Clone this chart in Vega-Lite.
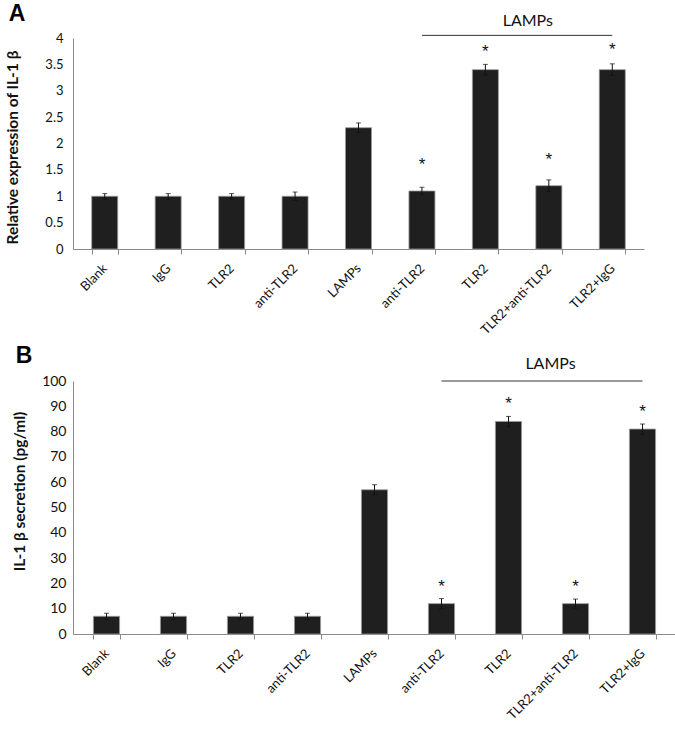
{
  "$schema": "https://vega.github.io/schema/vega-lite/v6.json",
  "padding": {"left": 5, "top": 2, "right": 0, "bottom": 0},
  "background": "white",
  "config": {
    "view": {"stroke": null},
    "font": "Lato",
    "axis": {"domainColor": "#8a8a8a", "tickColor": "#8a8a8a", "labelColor": "#111", "titleColor": "#111", "grid": false}
  },
  "datasets": {
    "a": [
      {"key": "1|Blank", "v": 1.0, "e": 0.05, "sy": null},
      {"key": "2|IgG", "v": 1.0, "e": 0.05, "sy": null},
      {"key": "3|TLR2", "v": 1.0, "e": 0.05, "sy": null},
      {"key": "4|anti-TLR2", "v": 1.0, "e": 0.08, "sy": null},
      {"key": "5|LAMPs", "v": 2.3, "e": 0.09, "sy": null},
      {"key": "6|anti-TLR2", "v": 1.1, "e": 0.07, "sy": 1.65},
      {"key": "7|TLR2", "v": 3.4, "e": 0.1, "sy": 3.8},
      {"key": "8|TLR2+anti-TLR2", "v": 1.2, "e": 0.11, "sy": 1.74},
      {"key": "9|TLR2+IgG", "v": 3.4, "e": 0.11, "sy": 3.82}
    ],
    "b": [
      {"key": "1|Blank", "v": 7, "e": 1.2, "sy": null},
      {"key": "2|IgG", "v": 7, "e": 1.2, "sy": null},
      {"key": "3|TLR2", "v": 7, "e": 1.2, "sy": null},
      {"key": "4|anti-TLR2", "v": 7, "e": 1.2, "sy": null},
      {"key": "5|LAMPs", "v": 57, "e": 2, "sy": null},
      {"key": "6|anti-TLR2", "v": 12, "e": 2, "sy": 19.8},
      {"key": "7|TLR2", "v": 84, "e": 2, "sy": 92},
      {"key": "8|TLR2+anti-TLR2", "v": 12, "e": 1.8, "sy": 19.8},
      {"key": "9|TLR2+IgG", "v": 81, "e": 2, "sy": 89}
    ],
    "la": [{"from": "6|anti-TLR2", "to": "9|TLR2+IgG", "mid": "8|TLR2+anti-TLR2", "y": 4.05, "ty": 4.33, "label": "LAMPs"}],
    "lb": [{"from": "6|anti-TLR2", "to": "9|TLR2+IgG", "mid": "8|TLR2+anti-TLR2", "y": 100, "ty": 106.7, "label": "LAMPs"}]
  },
  "spacing": 8,
  "vconcat": [
    {
      "title": {"text": "A", "anchor": "start", "frame": "bounds", "font": "Liberation Sans", "fontSize": 23, "fontWeight": "bold", "color": "#000", "offset": -13, "dx": 3},
      "width": 571,
      "height": 211,
      "encoding": {
        "x": {"field": "key", "type": "nominal", "sort": null,
          "scale": {"domain": ["1|Blank","2|IgG","3|TLR2","4|anti-TLR2","5|LAMPs","6|anti-TLR2","7|TLR2","8|TLR2+anti-TLR2","9|TLR2+IgG"], "paddingInner": 0.59, "paddingOuter": 0.295},
          "axis": {"title": null, "labelExpr": "split(datum.value,'|')[1]", "labelAngle": -45, "labelAlign": "right", "labelBaseline": "middle", "labelFontSize": 13, "labelPadding": 12, "tickBand": "extent", "tickSize": 5}}
      },
      "layer": [
        {
          "data": {"name": "a"},
          "mark": {"type": "bar", "color": "#1f1f1f", "stroke": "#9a9a9a", "strokeWidth": 0.8},
          "encoding": {
            "y": {"field": "v", "type": "quantitative", "title": "Relative expression of IL-1 β", "scale": {"domain": [0, 4], "nice": false},
              "axis": {"title": "Relative expression of IL-1 β", "titleFontSize": 15.5, "titleFontWeight": "bold", "titlePadding": 24, "titleY": 109, "values": [0, 0.5, 1, 1.5, 2, 2.5, 3, 3.5, 4], "format": "~g", "labelFontSize": 13, "ticks": false, "labelPadding": 10}}
          }
        },
        {
          "data": {"name": "a"},
          "mark": {"type": "errorbar", "ticks": {"size": 5, "color": "#111"}, "color": "#111", "thickness": 1},
          "encoding": {
            "y": {"field": "v", "type": "quantitative", "title": "Relative expression of IL-1 β",
              "axis": {"title": "Relative expression of IL-1 β", "titleFontSize": 15.5, "titleFontWeight": "bold", "titlePadding": 24, "titleY": 109, "values": [0, 0.5, 1, 1.5, 2, 2.5, 3, 3.5, 4], "format": "~g", "labelFontSize": 13, "ticks": false, "labelPadding": 10}},
            "yError": {"field": "e"}
          }
        },
        {
          "data": {"name": "a"},
          "transform": [{"filter": "datum.sy != null"}],
          "mark": {"type": "text", "text": "*", "fontSize": 17, "font": "Liberation Sans", "baseline": "middle", "dy": 3, "color": "#111"},
          "encoding": {
            "y": {"field": "sy", "type": "quantitative", "title": "Relative expression of IL-1 β",
              "axis": {"title": "Relative expression of IL-1 β", "titleFontSize": 15.5, "titleFontWeight": "bold", "titlePadding": 24, "titleY": 109, "values": [0, 0.5, 1, 1.5, 2, 2.5, 3, 3.5, 4], "format": "~g", "labelFontSize": 13, "ticks": false, "labelPadding": 10}}
          }
        },
        {
          "data": {"name": "la"},
          "mark": {"type": "rule", "color": "#333", "strokeWidth": 1},
          "encoding": {
            "x": {"field": "from", "type": "nominal"},
            "x2": {"field": "to"},
            "y": {"field": "y", "type": "quantitative", "title": "Relative expression of IL-1 β",
              "axis": {"title": "Relative expression of IL-1 β", "titleFontSize": 15.5, "titleFontWeight": "bold", "titlePadding": 24, "titleY": 109, "values": [0, 0.5, 1, 1.5, 2, 2.5, 3, 3.5, 4], "format": "~g", "labelFontSize": 13, "ticks": false, "labelPadding": 10}}
          }
        },
        {
          "data": {"name": "la"},
          "mark": {"type": "text", "fontSize": 16, "baseline": "middle", "dx": -21, "color": "#111"},
          "encoding": {
            "x": {"field": "mid", "type": "nominal"},
            "y": {"field": "ty", "type": "quantitative", "title": "Relative expression of IL-1 β",
              "axis": {"title": "Relative expression of IL-1 β", "titleFontSize": 15.5, "titleFontWeight": "bold", "titlePadding": 24, "titleY": 109, "values": [0, 0.5, 1, 1.5, 2, 2.5, 3, 3.5, 4], "format": "~g", "labelFontSize": 13, "ticks": false, "labelPadding": 10}},
            "text": {"field": "label"}
          }
        }
      ]
    },
    {
      "title": {"text": "B", "anchor": "start", "frame": "bounds", "font": "Liberation Sans", "fontSize": 23, "fontWeight": "bold", "color": "#000", "offset": -12, "dx": 3},
      "width": 603,
      "height": 253,
      "encoding": {
        "x": {"field": "key", "type": "nominal", "sort": null,
          "scale": {"domain": ["1|Blank","2|IgG","3|TLR2","4|anti-TLR2","5|LAMPs","6|anti-TLR2","7|TLR2","8|TLR2+anti-TLR2","9|TLR2+IgG"], "paddingInner": 0.61, "paddingOuter": 0.305},
          "axis": {"title": null, "labelExpr": "split(datum.value,'|')[1]", "labelAngle": -45, "labelAlign": "right", "labelBaseline": "middle", "labelFontSize": 13, "labelPadding": 12, "tickBand": "extent", "tickSize": 5}}
      },
      "layer": [
        {
          "data": {"name": "b"},
          "mark": {"type": "bar", "color": "#1f1f1f", "stroke": "#9a9a9a", "strokeWidth": 0.8},
          "encoding": {
            "y": {"field": "v", "type": "quantitative", "title": "IL-1 β secretion (pg/ml)", "scale": {"domain": [0, 100], "nice": false},
              "axis": {"title": "IL-1 β secretion (pg/ml)", "titleFontSize": 15.5, "titleFontWeight": "bold", "titlePadding": 14, "titleY": 110, "values": [0, 10, 20, 30, 40, 50, 60, 70, 80, 90, 100], "labelFontSize": 14, "ticks": false, "labelPadding": 7}}
          }
        },
        {
          "data": {"name": "b"},
          "mark": {"type": "errorbar", "ticks": {"size": 5, "color": "#111"}, "color": "#111", "thickness": 1},
          "encoding": {
            "y": {"field": "v", "type": "quantitative", "title": "IL-1 β secretion (pg/ml)",
              "axis": {"title": "IL-1 β secretion (pg/ml)", "titleFontSize": 15.5, "titleFontWeight": "bold", "titlePadding": 14, "titleY": 110, "values": [0, 10, 20, 30, 40, 50, 60, 70, 80, 90, 100], "labelFontSize": 14, "ticks": false, "labelPadding": 7}},
            "yError": {"field": "e"}
          }
        },
        {
          "data": {"name": "b"},
          "transform": [{"filter": "datum.sy != null"}],
          "mark": {"type": "text", "text": "*", "fontSize": 17, "font": "Liberation Sans", "baseline": "middle", "dy": 3, "color": "#111"},
          "encoding": {
            "y": {"field": "sy", "type": "quantitative", "title": "IL-1 β secretion (pg/ml)",
              "axis": {"title": "IL-1 β secretion (pg/ml)", "titleFontSize": 15.5, "titleFontWeight": "bold", "titlePadding": 14, "titleY": 110, "values": [0, 10, 20, 30, 40, 50, 60, 70, 80, 90, 100], "labelFontSize": 14, "ticks": false, "labelPadding": 7}}
          }
        },
        {
          "data": {"name": "lb"},
          "mark": {"type": "rule", "color": "#333", "strokeWidth": 1},
          "encoding": {
            "x": {"field": "from", "type": "nominal"},
            "x2": {"field": "to"},
            "y": {"field": "y", "type": "quantitative", "title": "IL-1 β secretion (pg/ml)",
              "axis": {"title": "IL-1 β secretion (pg/ml)", "titleFontSize": 15.5, "titleFontWeight": "bold", "titlePadding": 14, "titleY": 110, "values": [0, 10, 20, 30, 40, 50, 60, 70, 80, 90, 100], "labelFontSize": 14, "ticks": false, "labelPadding": 7}}
          }
        },
        {
          "data": {"name": "lb"},
          "mark": {"type": "text", "fontSize": 16, "baseline": "middle", "dx": -25, "color": "#111"},
          "encoding": {
            "x": {"field": "mid", "type": "nominal"},
            "y": {"field": "ty", "type": "quantitative", "title": "IL-1 β secretion (pg/ml)",
              "axis": {"title": "IL-1 β secretion (pg/ml)", "titleFontSize": 15.5, "titleFontWeight": "bold", "titlePadding": 14, "titleY": 110, "values": [0, 10, 20, 30, 40, 50, 60, 70, 80, 90, 100], "labelFontSize": 14, "ticks": false, "labelPadding": 7}},
            "text": {"field": "label"}
          }
        }
      ]
    }
  ]
}
